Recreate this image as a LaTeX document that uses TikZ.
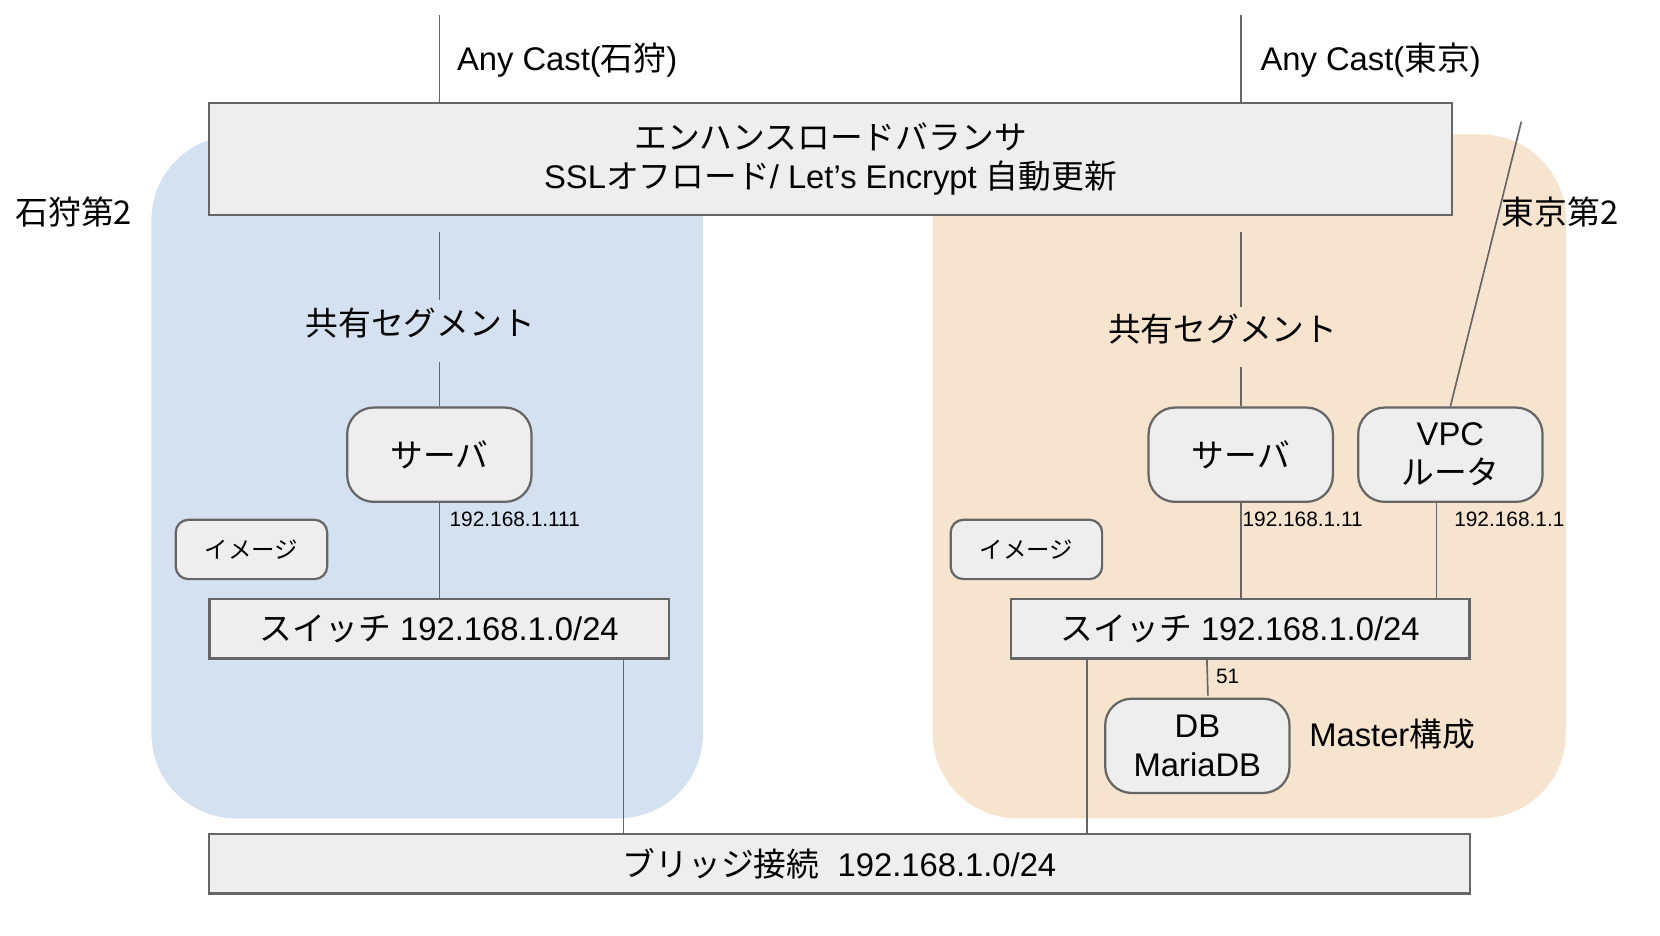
\documentclass[tikz,border=0pt]{standalone}
\usepackage{fontspec}
\setmainfont{Liberation Sans}
\newfontfamily\jp{Noto Sans CJK JP}
\newcommand\J[1]{{\jp #1}}
\newcommand\mainf{\fontsize{8.8pt}{10.5pt}\selectfont}
\newcommand\smallf{\fontsize{5.6pt}{6.7pt}\selectfont}
\newcommand\imgf{\fontsize{6.3pt}{7.5pt}\selectfont}
\definecolor{regblue}{HTML}{D4E1F1}
\definecolor{regorange}{HTML}{F7E4CF}
\definecolor{boxfill}{HTML}{EEEEEE}
\definecolor{linegray}{HTML}{666666}
\tikzset{
  box/.style={draw=linegray, fill=boxfill, line width=0.6pt, inner sep=0pt, align=center, font=\mainf},
  rbox/.style={box, rounded corners=0.25cm, minimum width=1.74cm, minimum height=0.89cm},
  sbox/.style={box, minimum height=0.56cm},
  ibox/.style={box, rounded corners=0.12cm, minimum width=1.43cm, minimum height=0.56cm, font=\imgf\jp},
  lbl/.style={inner sep=0pt, anchor=west, font=\mainf},
  ip/.style={inner sep=0pt, anchor=west, font=\smallf},
  conn/.style={draw=linegray, line width=0.45pt}
}
\begin{document}
\begin{tikzpicture}[x=0.01cm,y=-0.01cm]
\useasboundingbox (0,0) rectangle (1568,884);
% regions
\fill[regblue, rounded corners=0.8cm] (143,128) rectangle (664,773);
\fill[regorange, rounded corners=0.8cm] (881,127) rectangle (1479,773);

% load balancer
\node[box, minimum width=11.73cm, minimum height=1.06cm] (lb) at (784.5,150)
  {\J{エンハンスロードバランサ}\\SSL\J{オフロード}/ Let’s Encrypt \J{自動更新}};

% anycast lines
\coordinate (ac1) at (415,14);
\coordinate (ac2) at (1172,14);
\draw[conn] (ac1) -- (ac1 |- lb.north);
\draw[conn] (ac2) -- (ac2 |- lb.north);
\node[lbl] (acl1) at (431,57) {Any Cast(\J{石狩})};
\node[lbl] (acl2) at (1190,57) {Any Cast(\J{東京})};

% zone labels
\node[lbl, font=\mainf\jp] (z1) at (14,200) {石狩第2};
\node[lbl, font=\mainf\jp] (z2) at (1418,200) {東京第2};

% shared segment
\node[inner sep=0pt, font=\mainf\jp] (seg1) at (397,305) {共有セグメント};
\node[inner sep=0pt, font=\mainf\jp] (seg2) at (1155,311) {共有セグメント};

% servers etc
\node[rbox, font=\mainf\jp] (srv1) at (415,429.5) {サーバ};
\node[rbox, font=\mainf\jp] (srv2) at (1172,429.5) {サーバ};
\node[rbox] (vpc) at (1370,429.5) {VPC\\\J{ルータ}};
\node[rbox] (db) at (1131,704.5) {DB\\MariaDB};
\node[lbl] (mst) at (1236,693) {Master\J{構成}};

\node[ibox] (img1) at (237.5,519) {イメージ};
\node[ibox] (img2) at (969.5,519) {イメージ};

\node[sbox, minimum width=4.34cm] (sw1) at (415,594) {\J{スイッチ} 192.168.1.0/24};
\node[sbox, minimum width=4.33cm] (sw2) at (1171.5,594) {\J{スイッチ} 192.168.1.0/24};
\node[sbox, minimum width=11.9cm] (br) at (793,816) {\J{ブリッジ接続}\ \ 192.168.1.0/24};

% segment stubs
\coordinate (s1a) at (415,219);
\coordinate (s1b) at (415,283);
\coordinate (s1c) at (415,342);
\draw[conn] (s1a) -- (s1b);
\draw[conn] (s1c) -- (s1c |- srv1.north);
\coordinate (s2a) at (1172,219);
\coordinate (s2b) at (1172,290);
\coordinate (s2c) at (1172,347);
\draw[conn] (s2a) -- (s2b);
\draw[conn] (s2c) -- (s2c |- srv2.north);

% vpc uplink
\coordinate (up) at (1437,115);
\draw[conn] (up) -- (vpc.north);

% server to switch
\draw[conn] (srv1.south) -- (srv1.south |- sw1.north);
\draw[conn] (srv2.south) -- (srv2.south |- sw2.north);
\coordinate (r1) at (1357,474);
\draw[conn] (r1) -- (r1 |- sw2.north);

\node[ip] (ip1) at (424,491) {192.168.1.111};
\node[ip] (ip2) at (1173,491) {192.168.1.11};
\node[ip] (ip3) at (1373,491) {192.168.1.1};

% db link
\coordinate (d1) at (1140,622);
\coordinate (d2) at (1141,657);
\draw[conn] (d1) -- (d2);
\node[ip] (ip4) at (1148,639) {51};

% bridge links
\coordinate (b1) at (589,622);
\coordinate (b2) at (1027,622);
\draw[conn] (b1) -- (b1 |- br.north);
\draw[conn] (b2) -- (b2 |- br.north);
\end{tikzpicture}
\end{document}
